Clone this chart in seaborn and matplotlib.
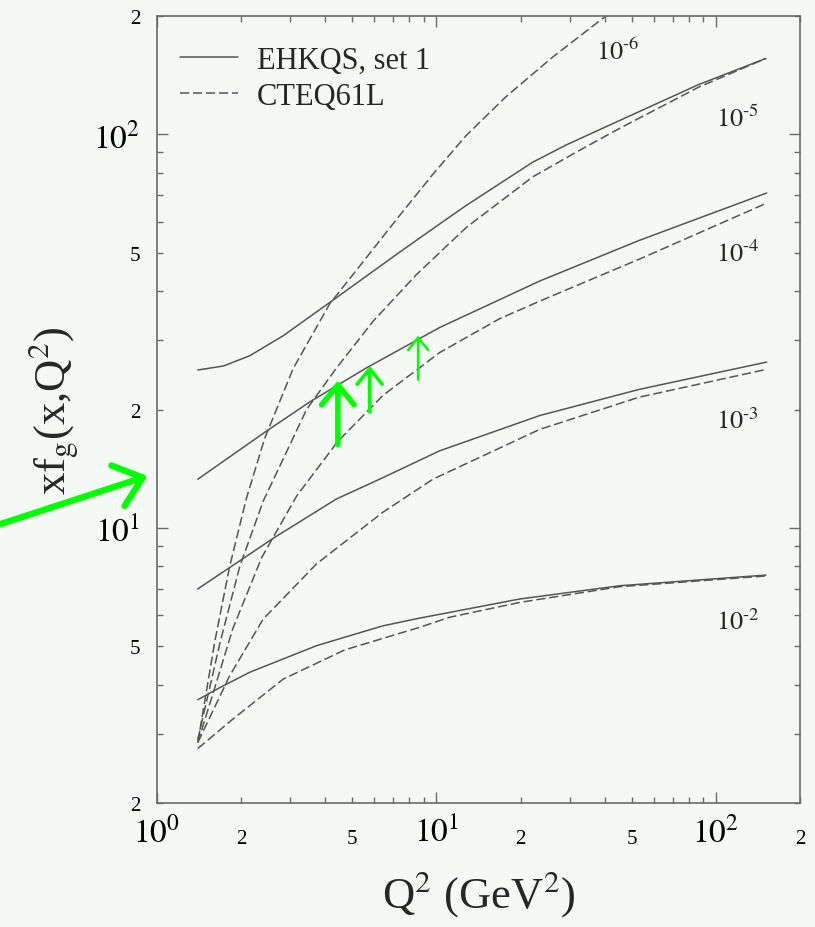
import math
import pandas as pd
import matplotlib
matplotlib.use("Agg")
import matplotlib.pyplot as plt
from matplotlib.ticker import FixedLocator, FuncFormatter
from matplotlib.lines import Line2D
import seaborn as sns

# -----------------------------
# Data: Q^2 (GeV^2) -> x g(x, Q^2)
# -----------------------------
# EHKQS, set 1 (solid)
ehkqs_1e5_q2 = [1.40, 1.73, 2.15, 2.83, 4.15, 7.38, 10.26, 12.78, 22.1, 29.1, 45.1, 87.0, 151.0]
ehkqs_1e5_xg = [25.2, 25.8, 27.4, 30.8, 37.4, 50.2, 59.2, 66.0, 85.0, 94.0, 108.4, 134.0, 156.0]

ehkqs_1e4_q2 = [1.40, 2.43, 3.52, 5.61, 10.26, 23.4, 53.2, 152.0]
ehkqs_1e4_xg = [13.3, 17.5, 20.9, 25.5, 32.3, 42.4, 53.8, 71.0]

ehkqs_1e3_q2 = [1.40, 2.64, 4.39, 6.26, 10.26, 23.4, 53.2, 152.0]
ehkqs_1e3_xg = [7.0, 9.47, 11.85, 13.3, 15.7, 19.3, 22.5, 26.4]

ehkqs_1e2_q2 = [1.40, 1.68, 2.15, 3.72, 6.43, 8.70, 11.14, 19.9, 45.1, 151.0]
ehkqs_1e2_xg = [3.66, 3.93, 4.30, 5.02, 5.64, 5.90, 6.10, 6.60, 7.13, 7.59]

# CTEQ61L (dashed)
cteq_1e6_q2 = [1.40, 1.61, 1.82, 2.09, 2.43, 3.07, 4.15, 5.61, 7.38, 9.71, 12.78, 17.76, 26.1, 40.4]
cteq_1e6_xg = [2.85, 5.14, 7.98, 11.9, 16.9, 25.4, 37.1, 48.6, 62.2, 79.2, 99.4, 124.8, 157.4, 200.0]

cteq_1e5_q2 = [1.40, 1.68, 1.98, 2.40, 3.43, 4.39, 5.93, 8.47, 12.78, 22.1, 32.4, 45.1, 87.0, 151.0]
cteq_1e5_xg = [2.90, 5.10, 8.0, 11.7, 20.0, 25.5, 33.5, 44.0, 58.0, 78.0, 91.0, 103.5, 132.0, 156.0]

cteq_1e4_q2 = [1.40, 1.60, 1.87, 2.37, 3.16, 4.44, 6.43, 10.26, 16.8, 23.4, 53.2, 152.0]
cteq_1e4_xg = [2.85, 3.87, 5.56, 8.41, 12.05, 16.6, 21.7, 27.9, 34.0, 37.7, 48.2, 66.9]

cteq_1e3_q2 = [1.40, 1.82, 2.40, 3.72, 6.43, 9.71, 23.4, 53.2, 152.0]
cteq_1e3_xg = [2.85, 4.21, 5.87, 8.10, 10.96, 13.3, 17.8, 21.5, 25.3]

cteq_1e2_q2 = [1.40, 1.87, 2.83, 4.70, 8.70, 11.14, 19.9, 45.1, 151.0]
cteq_1e2_xg = [2.75, 3.27, 4.13, 4.90, 5.59, 5.93, 6.47, 7.09, 7.55]

curves = [
    ("EHKQS, set 1", "1e-5", ehkqs_1e5_q2, ehkqs_1e5_xg),
    ("EHKQS, set 1", "1e-4", ehkqs_1e4_q2, ehkqs_1e4_xg),
    ("EHKQS, set 1", "1e-3", ehkqs_1e3_q2, ehkqs_1e3_xg),
    ("EHKQS, set 1", "1e-2", ehkqs_1e2_q2, ehkqs_1e2_xg),
    ("CTEQ61L", "1e-6", cteq_1e6_q2, cteq_1e6_xg),
    ("CTEQ61L", "1e-5", cteq_1e5_q2, cteq_1e5_xg),
    ("CTEQ61L", "1e-4", cteq_1e4_q2, cteq_1e4_xg),
    ("CTEQ61L", "1e-3", cteq_1e3_q2, cteq_1e3_xg),
    ("CTEQ61L", "1e-2", cteq_1e2_q2, cteq_1e2_xg),
]

# x-value labels next to the curves (left/baseline anchor)
curve_labels = ["$10^{\\text{-}6}$", "$10^{\\text{-}5}$", "$10^{\\text{-}4}$",
                "$10^{\\text{-}3}$", "$10^{\\text{-}2}$"]
label_q2 = [37.3, 100.3, 100.3, 100.3, 100.3]
label_xg = [155.5, 105.2, 47.8, 18.0, 5.54]

rows = []
for pdf_set, xval, q2, xg in curves:
    for a, b in zip(q2, xg):
        rows.append({"set": pdf_set, "curve": pdf_set + xval, "Q2": a, "xg": b})
df = pd.DataFrame(rows)

# -----------------------------
# Style
# -----------------------------
bg = "#f5f9f6"
ink = "#555555"
sns.set_theme(style="ticks")
plt.rcParams["font.family"] = ["Liberation Serif", "DejaVu Serif"]
plt.rcParams["mathtext.fontset"] = "stix"

fig = plt.figure(figsize=(8.15, 9.28), dpi=100, facecolor=bg)
ax = fig.add_axes([0.1926, 0.1336, 0.7890, 0.8481], facecolor=bg)

dash_map = {"EHKQS, set 1": "", "CTEQ61L": (6, 2.5)}
sns.lineplot(data=df, x="Q2", y="xg", units="curve", style="set", dashes=dash_map,
             estimator=None, sort=False, color=ink, linewidth=1.1, legend=False, ax=ax)

ax.set_xscale("log")
ax.set_yscale("log")
ax.set_xlim(1, 200)
ax.set_ylim(2, 200)

# ticks: majors at decades, minors at 2..9 with only 2 and 5 labelled
minor = [m * 10 ** e for e in (0, 1, 2) for m in range(2, 10) if m * 10 ** e <= 200]


def major_fmt(v, pos):
    return "$10^{%d}$" % round(math.log10(v))


def minor_fmt(v, pos):
    lead = round(v / 10 ** math.floor(math.log10(v) + 1e-9))
    return str(lead) if lead in (2, 5) else ""


for axis in (ax.xaxis, ax.yaxis):
    axis.set_major_locator(FixedLocator([1, 10, 100]))
    axis.set_major_formatter(FuncFormatter(major_fmt))
    axis.set_minor_locator(FixedLocator(minor))
    axis.set_minor_formatter(FuncFormatter(minor_fmt))

ax.tick_params(which="both", direction="in", top=True, right=True, colors="#6a6a6a",
               labelcolor="black")
ax.tick_params(which="major", length=8, width=1, labelsize=24)
ax.tick_params(which="minor", length=4.5, width=1, labelsize=15)
ax.tick_params(axis="x", which="major", pad=9)
ax.tick_params(axis="x", which="minor", pad=19)
ax.tick_params(axis="y", which="both", pad=12)
for s in ax.spines.values():
    s.set_linewidth(1.2)
    s.set_color("#6a6a6a")

ax.set_xlabel("Q$^2$ (GeV$^2$)", fontsize=32)
ax.set_ylabel("xf$_\\mathrm{g}$(x,Q$^2$)", fontsize=32)
ax.xaxis.set_label_coords(0.5, -0.082)
ax.yaxis.set_label_coords(-0.118, 0.5)

for t, a, b in zip(curve_labels, label_q2, label_xg):
    ax.text(a, b, t, fontsize=19, ha="left", va="baseline")

handles = [Line2D([], [], color=ink, lw=1.1, ls="-"),
           Line2D([], [], color=ink, lw=1.1, dashes=(6, 2.5))]
ax.legend(handles, ["EHKQS, set 1", "CTEQ61L"], loc="upper left", bbox_to_anchor=(0.036, 0.962),
          frameon=False, fontsize=22, handlelength=1.9, handletextpad=0.62,
          labelspacing=0.22, borderpad=0, borderaxespad=0)

# green arrows drawn over the figure
green = "#00ff00"
up_arrows = [  # (Q2, tail xg, tip xg, line width, head scale)
    (4.44, 16.3, 23.7, 4.0, 26),
    (5.77, 19.7, 25.8, 2.6, 20),
    (8.60, 23.8, 30.8, 1.8, 16),
]
for q, y0, y1, lw, ms in up_arrows:
    ax.annotate("", xy=(q, y1), xytext=(q, y0),
                arrowprops=dict(arrowstyle="->,head_length=0.55,head_width=0.45",
                                color=green, lw=lw, mutation_scale=ms, shrinkA=0, shrinkB=0))
ax.annotate("", xy=(0.181, 0.486), xytext=(0.0, 0.434), xycoords="figure fraction",
            textcoords="figure fraction", annotation_clip=False,
            arrowprops=dict(arrowstyle="->,head_length=0.55,head_width=0.45", color=green,
                            lw=4.6, mutation_scale=34, shrinkA=0, shrinkB=0))

fig.savefig("out.png", dpi=100, facecolor=bg)
